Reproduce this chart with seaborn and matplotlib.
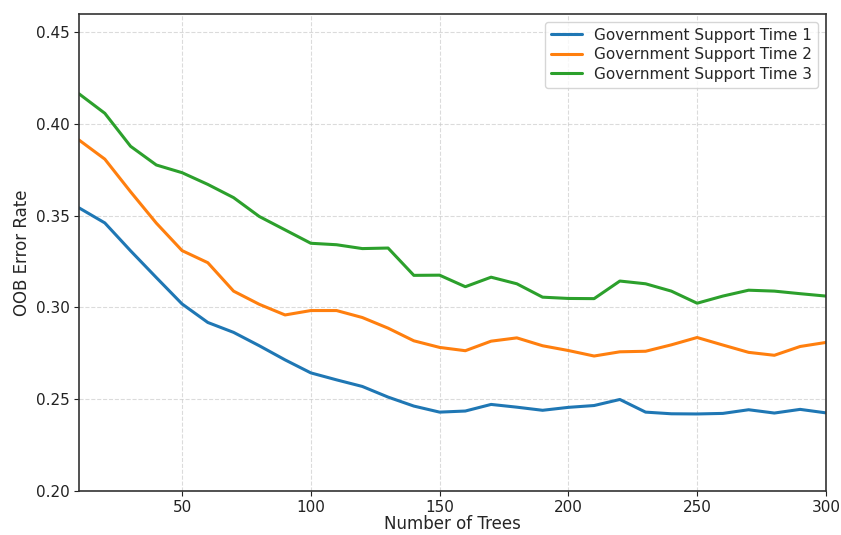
import numpy as np
import pandas as pd
import matplotlib
matplotlib.use("Agg")
import matplotlib.pyplot as plt
import seaborn as sns

n_trees = list(range(10, 301, 10))

time1 = [0.3542, 0.3460, 0.3308, 0.3162, 0.3018, 0.2917, 0.2863, 0.2790, 0.2713, 0.2642,
         0.2604, 0.2568, 0.2510, 0.2461, 0.2428, 0.2434, 0.2470, 0.2455, 0.2438, 0.2454,
         0.2464, 0.2497, 0.2428, 0.2419, 0.2418, 0.2421, 0.2441, 0.2423, 0.2443, 0.2424]
time2 = [0.3912, 0.3808, 0.3630, 0.3459, 0.3309, 0.3243, 0.3088, 0.3016, 0.2958, 0.2982,
         0.2982, 0.2944, 0.2886, 0.2817, 0.2781, 0.2763, 0.2815, 0.2833, 0.2790, 0.2764,
         0.2734, 0.2757, 0.2760, 0.2795, 0.2835, 0.2794, 0.2754, 0.2738, 0.2786, 0.2808]
time3 = [0.4164, 0.4058, 0.3878, 0.3776, 0.3734, 0.3670, 0.3598, 0.3495, 0.3422, 0.3349,
         0.3341, 0.3320, 0.3323, 0.3174, 0.3175, 0.3112, 0.3164, 0.3128, 0.3055, 0.3048,
         0.3047, 0.3143, 0.3128, 0.3088, 0.3022, 0.3061, 0.3093, 0.3088, 0.3074, 0.3061]

labels = ["Government Support Time 1", "Government Support Time 2", "Government Support Time 3"]

df = pd.DataFrame({
    "trees": n_trees * 3,
    "oob": time1 + time2 + time3,
    "series": [labels[0]] * 30 + [labels[1]] * 30 + [labels[2]] * 30,
})

sns.set_style("ticks")
plt.rcParams["font.family"] = ["DejaVu Sans"]

fig, ax = plt.subplots(figsize=(8.41, 5.35), dpi=100)
sns.lineplot(data=df, x="trees", y="oob", hue="series", palette=["#1f77b4", "#ff7f0e", "#2ca02c"],
             linewidth=2.2, ax=ax)

ax.set_xlim(10, 300)
ax.set_ylim(0.20, 0.46)
ax.set_xticks([50, 100, 150, 200, 250, 300])
ax.set_yticks([0.20, 0.25, 0.30, 0.35, 0.40, 0.45])
ax.set_yticklabels(["0.20", "0.25", "0.30", "0.35", "0.40", "0.45"])
ax.tick_params(labelsize=11, colors="#222222", pad=3)
ax.grid(True, linestyle="--", color="#cccccc", alpha=0.7, linewidth=0.8)
ax.set_xlabel("Number of Trees", fontsize=12, labelpad=0)
ax.set_ylabel("OOB Error Rate", fontsize=12)
for s in ax.spines.values():
    s.set_color("#333333")
    s.set_linewidth(1.2)

leg = ax.legend(loc="upper right", fontsize=11, frameon=True, labelspacing=0.3)
leg.get_frame().set_edgecolor("#cccccc")

plt.subplots_adjust(left=0.094, right=0.982, top=0.974, bottom=0.083)
plt.savefig("out.png", dpi=100)
